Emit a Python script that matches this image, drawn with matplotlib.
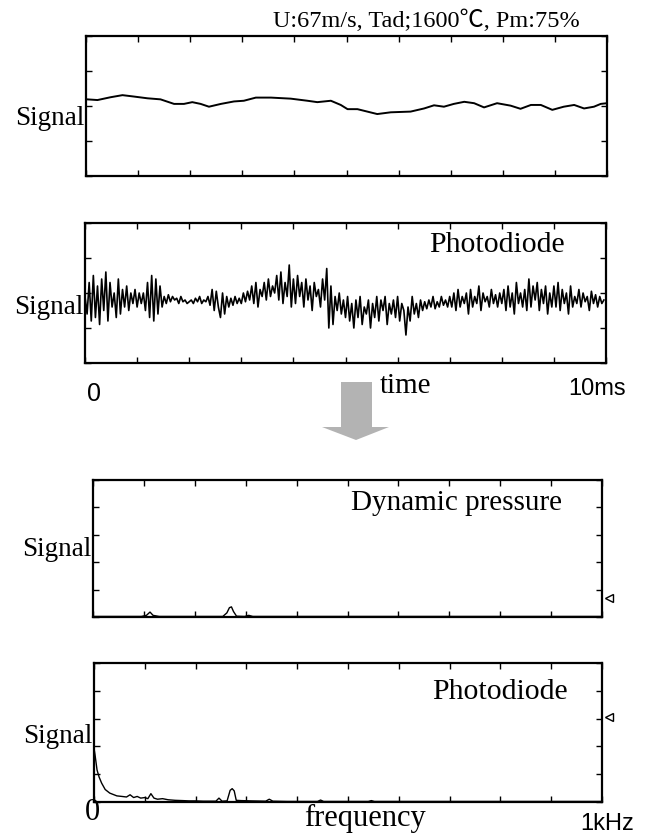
import matplotlib
matplotlib.use('Agg')
import matplotlib.pyplot as plt
from matplotlib.patches import Polygon, Rectangle

###### values ######
# top panel: dynamic pressure, time trace (ms, arbitrary signal units 0-4)
t_pressure = [0.0, 0.02, 0.22, 0.47, 0.70, 0.92, 1.18, 1.43, 1.69, 1.88, 2.04, 2.20, 2.36,
              2.59, 2.84, 3.03, 3.26, 3.55, 3.93, 4.25, 4.44, 4.70, 4.89, 5.02, 5.21,
              5.40, 5.59, 5.85, 6.23, 6.49, 6.68, 6.87, 7.06, 7.26, 7.45, 7.64, 7.89,
              8.15, 8.34, 8.54, 8.73, 8.95, 9.17, 9.37, 9.56, 9.75, 9.88, 10.0]
s_pressure = [2.18, 2.19, 2.17, 2.25, 2.31, 2.27, 2.22, 2.19, 2.06, 2.06, 2.11, 2.06, 1.98,
              2.06, 2.13, 2.15, 2.24, 2.24, 2.21, 2.15, 2.11, 2.15, 2.03, 1.91, 1.91,
              1.84, 1.77, 1.82, 1.84, 1.93, 2.02, 1.98, 2.06, 2.12, 2.08, 1.96, 2.08,
              2.01, 1.92, 2.03, 2.03, 1.89, 1.98, 2.03, 1.93, 1.98, 2.06, 2.08]

# second panel: photodiode time trace, one value every 0.04 ms
s_photo = [
    1.9, 1.4, 2.3, 1.2, 2.5, 1.3, 2.2, 1.1, 2.4, 1.5, 2.6, 1.2, 2.3, 1.6, 2.0, 1.3, 2.4, 1.4, 2.1, 1.6, 2.2, 1.5, 2.0, 1.7, 2.1,
    1.6, 2.0, 1.7, 2.0, 1.5, 2.3, 1.3, 2.5, 1.2, 2.4, 1.4, 2.2, 1.6, 1.9, 1.7, 1.95, 1.75, 1.9, 1.8, 1.85, 1.7, 1.9, 1.75, 1.8, 1.7,
    1.75, 1.8, 1.7, 1.85, 1.75, 1.9, 1.7, 1.8, 1.75, 1.9, 1.65, 2.1, 1.5, 2.05, 1.6, 1.3, 2.0, 1.4, 1.9, 1.6, 1.85, 1.65, 1.9, 1.7, 1.85,
    1.7, 2.0, 1.75, 2.05, 1.8, 2.2, 1.7, 2.3, 1.6, 2.1, 1.9, 2.3, 1.8, 2.4, 1.9, 2.2, 2.0, 2.5, 1.8, 2.6, 1.7, 2.3, 1.9, 2.8, 1.6,
    2.4, 1.7, 2.5, 1.9, 2.3, 1.6, 2.4, 1.8, 2.2, 1.5, 2.3, 1.9, 2.1, 1.6, 2.4, 1.8, 2.7, 1.0, 2.2, 1.1, 1.9, 1.5, 2.0, 1.4, 1.8,
    1.3, 1.9, 1.2, 1.7, 1.0, 1.8, 1.3, 1.9, 1.1, 1.6, 1.4, 1.8, 1.0, 1.7, 1.3, 1.9, 1.2, 1.8, 1.5, 1.9, 1.1, 1.7, 1.4, 1.8, 1.3,
    1.9, 1.2, 1.7, 1.5, 0.8, 1.6, 1.2, 1.9, 1.4, 1.7, 1.3, 1.8, 1.5, 1.75, 1.55, 1.8, 1.6, 1.9, 1.55, 1.75, 1.6, 1.9, 1.65, 1.8, 1.6,
    1.9, 1.6, 2.0, 1.5, 2.1, 1.6, 1.9, 1.7, 2.0, 1.4, 2.1, 1.6, 1.9, 1.7, 2.2, 1.5, 2.0, 1.75, 1.9, 1.6, 2.1, 1.7, 1.95, 1.6, 2.0,
    1.7, 2.1, 1.5, 2.2, 1.6, 2.0, 1.4, 2.3, 1.7, 2.0, 1.6, 2.1, 1.5, 2.4, 1.6, 2.2, 1.8, 2.3, 1.5, 2.1, 1.7, 2.2, 1.4, 2.0, 1.6,
    2.2, 1.6, 2.3, 1.5, 2.1, 1.7, 2.0, 1.4, 2.2, 1.6, 1.9, 1.7, 2.1, 1.6, 2.0, 1.75, 1.9, 1.5, 2.05, 1.7, 1.95, 1.6, 1.9, 1.7, 1.8,
]
t_photo = [i * 0.04 for i in range(len(s_photo))]

# third panel: dynamic pressure spectrum (Hz, 0-5)
f_pressure = [0, 95, 105, 112, 118, 130, 255, 263, 268, 272, 276, 282, 298, 306, 314, 1000]
a_pressure = [0.02, 0.02, 0.06, 0.18, 0.06, 0.02, 0.02, 0.15, 0.34, 0.37, 0.20, 0.03,
              0.02, 0.06, 0.02, 0.02]

# bottom panel: photodiode spectrum
f_photo = [0, 2, 6, 10, 15, 22, 31, 45, 55, 64, 71, 78, 85, 92, 100, 106, 112, 118, 125,
           135, 146, 160, 175, 187, 200, 215, 240, 246, 252, 262, 268, 272, 276, 280, 290,
           310, 338, 345, 352, 380, 440, 446, 452, 500, 540, 546, 552, 600, 1000]
a_photo = [1.94, 1.70, 1.15, 0.90, 0.68, 0.45, 0.32, 0.22, 0.20, 0.18, 0.26, 0.16, 0.20,
           0.14, 0.16, 0.12, 0.30, 0.14, 0.10, 0.12, 0.08, 0.06, 0.05, 0.04, 0.04, 0.03,
           0.03, 0.14, 0.03, 0.04, 0.42, 0.48, 0.40, 0.06, 0.05, 0.04, 0.03, 0.10, 0.03,
           0.02, 0.02, 0.07, 0.02, 0.02, 0.02, 0.05, 0.02, 0.02, 0.02]

SERIF = ['Liberation Serif', 'Noto Sans CJK JP', 'DejaVu Sans']
SANS = ['Liberation Sans', 'DejaVu Sans']
W, H = 652, 838


def frac(x, y):
    # pixel position of the reference picture -> figure fraction
    return x / W, 1 - y / H


def box(left, top, right, bottom):
    return [left / W, 1 - bottom / H, (right - left) / W, (bottom - top) / H]


def style(ax, xmax, ymax, ny):
    ax.set_xlim(0, xmax)
    ax.set_ylim(0, ymax)
    ax.set_xticks([xmax * i / 10 for i in range(11)])
    ax.set_yticks([ymax * i / ny for i in range(ny + 1)])
    ax.tick_params(direction='in', length=4, width=1, top=True, right=True,
                   labelbottom=False, labelleft=False)
    for sp in ax.spines.values():
        sp.set_linewidth(1.6)


fig = plt.figure(figsize=(6.52, 8.38), dpi=100)

ax1 = fig.add_axes(box(86, 36, 607, 176))
ax2 = fig.add_axes(box(85, 223, 606, 363))
ax3 = fig.add_axes(box(93, 480, 602, 617))
ax4 = fig.add_axes(box(94, 663, 602, 802))

ax1.plot(t_pressure, s_pressure, color='black', lw=1.4)
style(ax1, 10, 4, 4)

ax2.plot(t_photo, s_photo, color='black', lw=1.2)
style(ax2, 10, 4, 4)

ax3.plot(f_pressure, a_pressure, color='black', lw=1.0)
style(ax3, 1000, 5, 5)

ax4.plot(f_photo, a_photo, color='black', lw=1.0)
style(ax4, 1000, 5, 5)

# labels
fig.text(*frac(426, 21), 'U:67m/s, Tad;1600\u2103, Pm:75%', family=SERIF,
         fontsize=17.5, ha='center', va='center')
for ax, yy in [(ax1, 0.41), (ax2, 0.40), (ax3, 0.49), (ax4, 0.47)]:
    ax.text(-0.003, yy, 'Signal', transform=ax.transAxes, family=SERIF,
            fontsize=19.5, ha='right', va='center')

ax3.text(0.715, 0.83, 'Dynamic pressure', transform=ax3.transAxes, family=SERIF,
         fontsize=21, ha='center', va='center')
ax4.text(0.80, 0.79, 'Photodiode', transform=ax4.transAxes, family=SERIF,
         fontsize=21.5, ha='center', va='center')

# the photodiode label in the second panel is cut off in the scan
lab = ax2.text(0.79, (363 - 252) / 140, 'Photodiode', transform=ax2.transAxes,
               family=SERIF, fontsize=21.5, ha='center', va='baseline')
lab.set_clip_path(Rectangle((0, (363 - 246) / 140), 1, 1, transform=ax2.transAxes))

fig.text(*frac(94, 394), '0', family=SANS, fontsize=18, ha='center', va='center')
fig.text(*frac(405, 386), 'time', family=SERIF, fontsize=21, ha='center', va='center')
fig.text(*frac(597, 389), '10ms', family=SANS, fontsize=17, ha='center', va='center')

fig.text(*frac(92, 812), '0', family=SERIF, fontsize=22, ha='center', va='center')
fig.text(*frac(365, 818), 'frequency', family=SERIF, fontsize=22, ha='center', va='center')
fig.text(*frac(607, 824), '1kHz', family=SANS, fontsize=17, ha='center', va='center')

# small open markers on the right edge of the spectra
ax3.plot([1.014], [0.14], marker='<', ms=6, mfc='white', mec='black', mew=1,
         transform=ax3.transAxes, clip_on=False)
ax4.plot([1.014], [0.61], marker='<', ms=6, mfc='white', mec='black', mew=1,
         transform=ax4.transAxes, clip_on=False)

# grey arrow between time traces and spectra
arrow_pts = [frac(341, 382), frac(372, 382), frac(372, 427), frac(389, 427),
             frac(356, 440), frac(322, 427), frac(341, 427)]
fig.patches.append(Polygon(arrow_pts, closed=True, transform=fig.transFigure,
                           facecolor='#b3b3b3', edgecolor='none'))

fig.savefig('out.png', dpi=100)
